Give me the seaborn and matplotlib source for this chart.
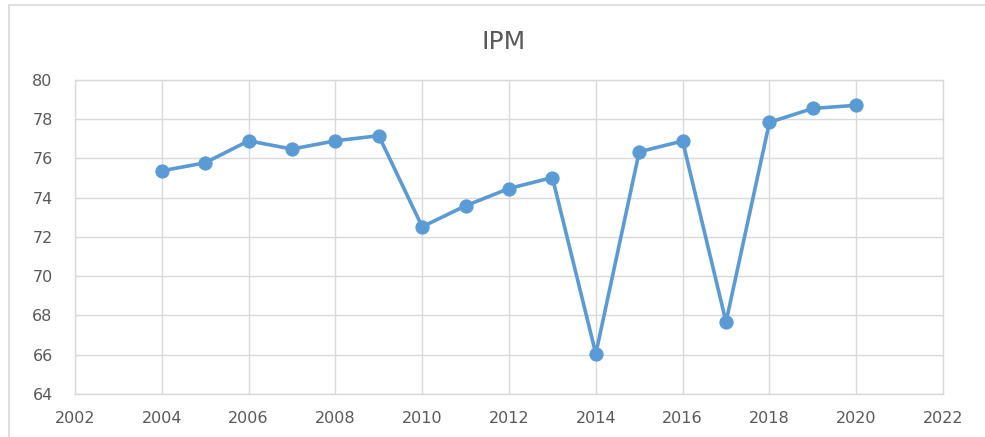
import matplotlib
matplotlib.use("Agg")
import matplotlib.pyplot as plt
from matplotlib.lines import Line2D
import seaborn as sns
import pandas as pd

years = [2004, 2005, 2006, 2007, 2008, 2009, 2010, 2011, 2012,
         2013, 2014, 2015, 2016, 2017, 2018, 2019, 2020]
ipm = [75.37, 75.78, 76.90, 76.48, 76.90, 77.16, 72.52, 73.59, 74.47,
       75.03, 66.05, 76.34, 76.89, 67.67, 77.84, 78.55, 78.71]
x_ticks = list(range(2002, 2023, 2))
y_ticks = list(range(64, 81, 2))

df = pd.DataFrame({"Tahun": years, "IPM": ipm})

sns.set_theme(style="white")
plt.rcParams["font.family"] = ["DejaVu Sans"]

fig = plt.figure(figsize=(9.85, 4.37), dpi=100)
ax = fig.add_axes([0.0761, 0.0984, 0.8813, 0.7186])

sns.lineplot(data=df, x="Tahun", y="IPM", ax=ax, color="#5B9BD5",
             linewidth=2.6, marker="o", markersize=9.5,
             markeredgecolor="#5B9BD5", markerfacecolor="#5B9BD5")

ax.set_xlim(2002, 2022)
ax.set_ylim(64, 80)
ax.set_xticks(x_ticks)
ax.set_yticks(y_ticks)
ax.grid(True, color="#D9D9D9", linewidth=1.0)
ax.set_axisbelow(True)
for s in ax.spines.values():
    s.set_color("#D9D9D9")
    s.set_linewidth(1.0)
ax.set_xlabel("")
ax.set_ylabel("")
ax.tick_params(axis="both", length=0, labelsize=11.5, labelcolor="#595959")
ax.tick_params(axis="x", pad=12)
ax.tick_params(axis="y", pad=16)

fig.text(0.511, 0.903, "IPM", ha="center", va="center",
         fontsize=18, color="#595959")

# outer chart frame (left and top edges)
fig.add_artist(Line2D([9/985, 9/985], [0, 1 - 5/437], transform=fig.transFigure,
                      color="#D9D9D9", linewidth=1.2))
fig.add_artist(Line2D([9/985, 1], [1 - 5/437, 1 - 5/437], transform=fig.transFigure,
                      color="#D9D9D9", linewidth=1.2))

fig.savefig("out.png", dpi=100)
